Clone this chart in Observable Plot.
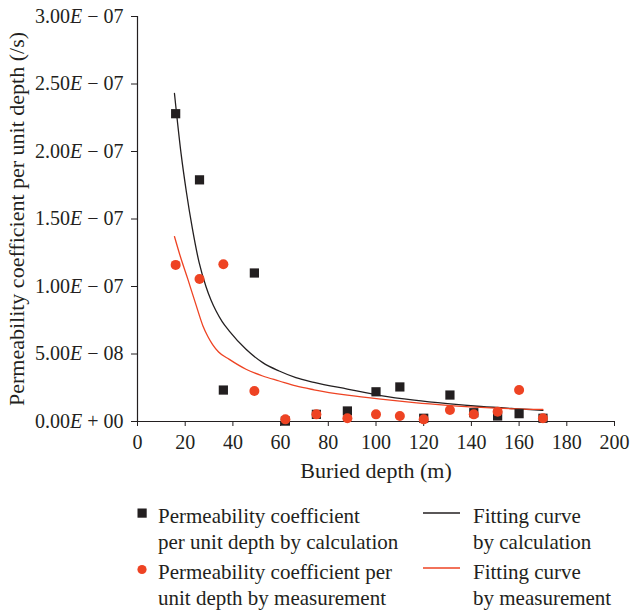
<!DOCTYPE html>
<html>
<head>
<meta charset="utf-8">
<script src="https://cdn.jsdelivr.net/npm/d3@7"></script>
<script src="https://cdn.jsdelivr.net/npm/@observablehq/plot@0.6"></script>
<style>
  html, body { margin: 0; padding: 0; background: #fff; }
  #wrap { width: 631px; height: 610px; overflow: hidden; }
  svg { display: block; }
</style>
</head>
<body>
<div id="wrap"></div>
<script>
// ---- data ----
const depth = [16, 26, 36, 49, 62, 75, 88, 100, 110, 120, 131, 141, 151, 160, 170];
const calcValues = [2.28e-7, 1.79e-7, 2.33e-8, 1.10e-7, 0.3e-9, 5.3e-9, 7.8e-9, 2.2e-8, 2.56e-8, 2.4e-9, 1.96e-8, 6.5e-9, 4.1e-9, 5.8e-9, 2.4e-9];
const measValues = [1.16e-7, 1.055e-7, 1.165e-7, 2.26e-8, 1.6e-9, 5.3e-9, 2.4e-9, 5.3e-9, 4.1e-9, 1.6e-9, 8.5e-9, 5.3e-9, 7.3e-9, 2.33e-8, 2.4e-9];

// fitting curves
const fitCalcX = [15.5, 18.3, 20.5, 23, 25.8, 28.7, 30.8, 32.9, 35.5, 38.5, 45.5, 52.5, 59.4, 66.4, 74, 88, 102, 116, 130, 144, 158, 170];
const fitCalcY = [2.43e-7, 1.98e-7, 1.70e-7, 1.43e-7, 1.18e-7, 1.0e-7, 9.0e-8, 8.2e-8, 7.4e-8, 6.7e-8, 5.35e-8, 4.36e-8, 3.74e-8, 3.25e-8, 2.9e-8, 2.4e-8, 1.92e-8, 1.58e-8, 1.32e-8, 1.11e-8, 9.5e-9, 8.3e-9];
const fitMeasX = [15.5, 18, 21, 24.6, 27.4, 29.5, 31.5, 34, 38.5, 45.5, 52.5, 59.4, 66.4, 74, 88, 102, 116, 130, 144, 158, 170];
const fitMeasY = [1.37e-7, 1.22e-7, 1.06e-7, 8.6e-8, 7.1e-8, 6.3e-8, 5.7e-8, 5.15e-8, 4.6e-8, 3.87e-8, 3.37e-8, 3.0e-8, 2.63e-8, 2.35e-8, 1.95e-8, 1.65e-8, 1.4e-8, 1.2e-8, 1.04e-8, 9.4e-9, 9.0e-9];

const xTicks = [0, 20, 40, 60, 80, 100, 120, 140, 160, 180, 200];
const yTicks = [0, 0.5e-7, 1.0e-7, 1.5e-7, 2.0e-7, 2.5e-7, 3.0e-7];

const xLabel = "Buried depth (m)";
const yLabel = "Permeability coefficient per unit depth (/s)";
const legendCalc = ["Permeability coefficient", "per unit depth by calculation"];
const legendMeas = ["Permeability coefficient per", "unit depth by measurement"];
const legendFitCalc = ["Fitting curve", "by calculation"];
const legendFitMeas = ["Fitting curve", "by measurement"];

const BLACK = "#231f20";
const RED = "#ee4323";
const FONT = "'Liberation Serif', 'DejaVu Serif', serif";

// ---- tables ----
const calcData = depth.map((d, i) => ({x: d, y: calcValues[i]}));
const measData = depth.map((d, i) => ({x: d, y: measValues[i]}));
const fitCalc = fitCalcX.map((d, i) => ({x: d, y: fitCalcY[i]}));
const fitMeas = fitMeasX.map((d, i) => ({x: d, y: fitMeasY[i]}));

function fmt(v) {
  const s = v.toExponential(2);
  const [m, e] = s.split("e");
  const n = parseInt(e, 10);
  const sign = n < 0 ? "\u2212" : "+";
  return m + "E " + sign + " " + String(Math.abs(n)).padStart(2, "0");
}

const H = 490;
const chart = Plot.plot({
  width: 631,
  height: H,
  marginLeft: 137,
  marginRight: 17,
  marginTop: 16,
  marginBottom: 69,
  style: {fontFamily: FONT, fontSize: "20px", color: BLACK, background: "#fff", overflow: "visible"},
  x: {domain: [0, 200]},
  y: {domain: [0, 3e-7]},
  marks: [
    Plot.axisX({ticks: xTicks, tickSize: 5, tickPadding: 8, label: xLabel, labelAnchor: "center", labelArrow: "none", labelOffset: 56}),
    Plot.axisY({ticks: yTicks, tickSize: 6, tickPadding: 8, tickFormat: fmt, label: yLabel, labelAnchor: "center", labelArrow: "none", labelOffset: 129}),
    Plot.ruleX([0], {stroke: BLACK, strokeWidth: 1.2}),
    Plot.ruleY([0], {stroke: BLACK, strokeWidth: 1.2}),
    Plot.line(fitCalc, {x: "x", y: "y", stroke: BLACK, strokeWidth: 1.3, curve: "monotone-x"}),
    Plot.line(fitMeas, {x: "x", y: "y", stroke: RED, strokeWidth: 1.3, curve: "monotone-x"}),
    Plot.dot(calcData, {x: "x", y: "y", symbol: "square", fill: BLACK, r: 5.2}),
    Plot.dot(measData, {x: "x", y: "y", symbol: "circle", fill: RED, r: 5})
  ]
});

// italic E in y tick labels
chart.querySelectorAll('[aria-label="y-axis tick label"] text').forEach(t => {
  const s = t.textContent;
  const idx = s.indexOf("E");
  if (idx < 0) return;
  t.textContent = "";
  const ns = "http://www.w3.org/2000/svg";
  const a = document.createElementNS(ns, "tspan"); a.textContent = s.slice(0, idx);
  const b = document.createElementNS(ns, "tspan"); b.textContent = "E"; b.setAttribute("font-style", "italic");
  const c = document.createElementNS(ns, "tspan"); c.textContent = s.slice(idx + 1);
  t.append(a, b, c);
});
chart.querySelectorAll('[aria-label="y-axis label"], [aria-label="x-axis label"]').forEach(g => {
  g.setAttribute("font-size", "22px");
  g.querySelectorAll("text").forEach(t => t.setAttribute("font-size", "22px"));
});

document.getElementById("wrap").append(chart);

// ---- legend ----
const leg = d3.select("#wrap").append("svg")
  .attr("width", 631).attr("height", 610 - H)
  .style("font-family", FONT).style("font-size", "21px").attr("fill", BLACK);
function textBlock(x, y, lines) {
  lines.forEach((l, i) => leg.append("text").attr("x", x).attr("y", y + i * 26 - H).text(l));
}
leg.append("rect").attr("x", 137.5).attr("y", 508.5 - H).attr("width", 9.2).attr("height", 9.2).attr("fill", BLACK);
textBlock(158, 523, legendCalc);
leg.append("circle").attr("cx", 142).attr("cy", 569.5 - H).attr("r", 4.6).attr("fill", RED);
textBlock(158, 579, legendMeas);
leg.append("line").attr("x1", 423).attr("x2", 460).attr("y1", 513 - H).attr("y2", 513 - H).attr("stroke", BLACK).attr("stroke-width", 1.3);
textBlock(473, 523, legendFitCalc);
leg.append("line").attr("x1", 423).attr("x2", 460).attr("y1", 568 - H).attr("y2", 568 - H).attr("stroke", RED).attr("stroke-width", 1.3);
textBlock(473, 579, legendFitMeas);
</script>
</body>
</html>
